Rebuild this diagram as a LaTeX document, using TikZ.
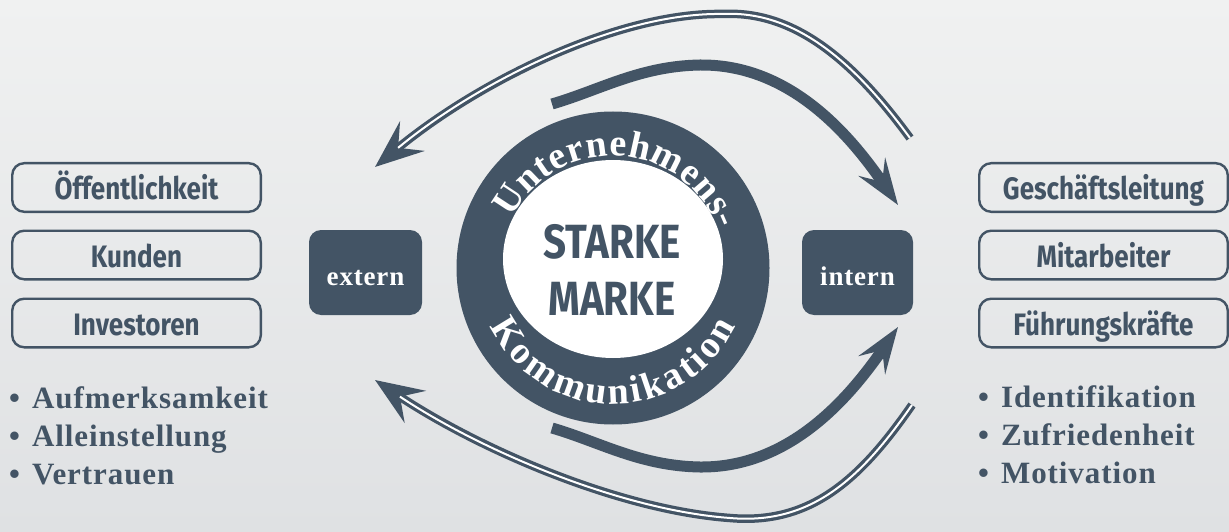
\documentclass[tikz,border=0pt]{standalone}
\usepackage{fontspec}
\setmainfont{Liberation Serif}
\newfontfamily\serifsp[LetterSpace=3]{Liberation Serif}
\newfontfamily\din[FakeStretch=0.84]{Fira Sans}
\usetikzlibrary{arrows.meta}
\definecolor{slate}{RGB}{67,84,101}
\definecolor{bgtop}{RGB}{240,241,241}
\definecolor{bgmid}{RGB}{250,250,250}
\definecolor{bgbot}{RGB}{223,225,227}
\newcommand\ringsize{38}
\newcommand\ringfont{\bfseries\fontsize{38}{38}\selectfont}
% #1 letter/width(em) list, #2 centre angle, #3 baseline radius (pt),
% #4 extra spacing (pt), #5 sign: 1 = over the top, -1 = along the bottom
\newcommand\placering[5]{%
  \gdef\totw{0}%
  \foreach \ch/\cw in {#1}{%
    \pgfmathsetmacro\tmp{\totw+\cw*\ringsize+#4}%
    \xdef\totw{\tmp}}%
  \pgfmathsetmacro\tot{\totw-#4}%
  \pgfmathsetmacro\startang{#2+#5*(\tot/#3)*90/pi}%
  \xdef\curang{\startang}%
  \foreach \ch/\cw in {#1}{%
    \pgfmathsetmacro\midang{\curang-#5*(\cw*\ringsize/2)/#3*180/pi}%
    \pgfmathsetmacro\rot{\midang-#5*90}%
    \node[ringletter, rotate=\rot] at ([shift={(\midang:#3pt)}]c) {\ringfont\ch};
    \pgfmathsetmacro\nxt{\curang-#5*(\cw*\ringsize+#4)/#3*180/pi}%
    \xdef\curang{\nxt}}%
}
\begin{document}
\begin{tikzpicture}[x=1pt,y=-1pt,
  groupbox/.style={draw=slate, line width=2.4pt, rounded corners=12pt,
    minimum width=248.6pt, minimum height=48.6pt, inner sep=0pt,
    text height=25pt, text depth=0pt, text=slate,
    font=\din\bfseries\fontsize{31}{31}\selectfont},
  sidebox/.style={fill=slate, rounded corners=12pt, minimum height=85pt,
    inner sep=0pt, text height=25pt, text depth=0pt, text=white,
    font=\serifsp\bfseries\fontsize{27}{27}\selectfont},
  bulletline/.style={anchor=base west, inner sep=0pt, text=slate,
    font=\serifsp\bfseries\fontsize{31}{31}\selectfont},
  ringletter/.style={anchor=base, inner sep=0pt, text=white},
  dblarrow/.style={draw=slate, line width=8.5pt,
    -{Stealth[length=48pt,width=38pt,inset=18pt]}},
  dblgap/.style={draw=white, line width=2pt, shorten >=30pt},
  fatarrow/.style={draw=slate, line width=11pt,
    -{Stealth[length=46pt,width=32pt,inset=18pt]}},
  bigword/.style={anchor=base, inner sep=0pt, text=slate,
    font=\din\bfseries\fontsize{48}{48}\selectfont},
]
% background
\shade[top color=bgtop, middle color=bgmid, bottom color=bgbot] (0,0) rectangle (1229,532);
\useasboundingbox (0,0) rectangle (1229,532);

% ring
\coordinate (c) at (613,268);
\fill[slate] (c) circle[radius=156.5pt];
\fill[white] (613,259) ellipse[x radius=110pt, y radius=99pt];
\placering{U/.722,n/.556,t/.333,e/.444,r/.444,n/.556,e/.444,h/.556,m/.833,e/.444,n/.556,s/.389,-/.333}{87}{112}{0.8}{1}
\placering{K/.778,o/.5,m/.833,m/.833,u/.556,n/.556,i/.278,k/.556,a/.5,t/.333,i/.278,o/.5,n/.556}{270}{136}{3.3}{-1}
\node[bigword] (starke) at (612,258) {STARKE};
\node[bigword] (marke) at (612,315) {MARKE};

% side boxes
\node[sidebox, minimum width=113pt] (extern) at (365.5,272.5) {extern};
\node[sidebox, minimum width=111pt] (intern) at (857.5,272.5) {intern};

% arrows
\coordinate (to1) at (910,138);
\coordinate (te1) at (375,167);
\coordinate (ts2) at (552,104);
\coordinate (te2) at (898,205);
\coordinate (bo1) at (912,405);
\coordinate (be1) at (375,380);
\coordinate (bs2) at (552,428);
\coordinate (be2) at (898,327);

\draw[dblarrow] (to1) .. controls (860,70) and (800,10) .. (723,14)
  .. controls (620,12) and (480,80) .. (te1);
\draw[dblgap] (to1) .. controls (860,70) and (800,10) .. (723,14)
  .. controls (620,12) and (480,80) .. (te1);
\draw[fatarrow] (ts2) .. controls (600,90) and (640,66) .. (700,65)
  .. controls (790,64) and (850,135) .. (te2);

\draw[dblarrow] (bo1) .. controls (860,480) and (810,525) .. (730,518)
  .. controls (620,510) and (480,450) .. (be1);
\draw[dblgap] (bo1) .. controls (860,480) and (810,525) .. (730,518)
  .. controls (620,510) and (480,450) .. (be1);
\draw[fatarrow] (bs2) .. controls (600,442) and (640,466) .. (700,467)
  .. controls (790,468) and (850,397) .. (be2);

% left groups
\node[groupbox] (oeff) at (136.5,187.5) {Öffentlichkeit};
\node[groupbox] (kunden) at (136.5,255) {Kunden};
\node[groupbox] (invest) at (136.5,323) {Investoren};
% right groups
\node[groupbox] (gl) at (1103.5,187.5) {Geschäftsleitung};
\node[groupbox] (ma) at (1103.5,255) {Mitarbeiter};
\node[groupbox] (fk) at (1103.5,323) {Führungskräfte};

% bullet lists
\node[bulletline] (l1) at (9,408) {•\hspace{12pt}Aufmerksamkeit};
\node[bulletline] (l2) at (9,446) {•\hspace{12pt}Alleinstellung};
\node[bulletline] (l3) at (9,484) {•\hspace{12pt}Vertrauen};
\node[bulletline] (r1) at (978,407) {•\hspace{12pt}Identifikation};
\node[bulletline] (r2) at (978,445) {•\hspace{12pt}Zufriedenheit};
\node[bulletline] (r3) at (978,483) {•\hspace{12pt}Motivation};
\end{tikzpicture}
\end{document}
